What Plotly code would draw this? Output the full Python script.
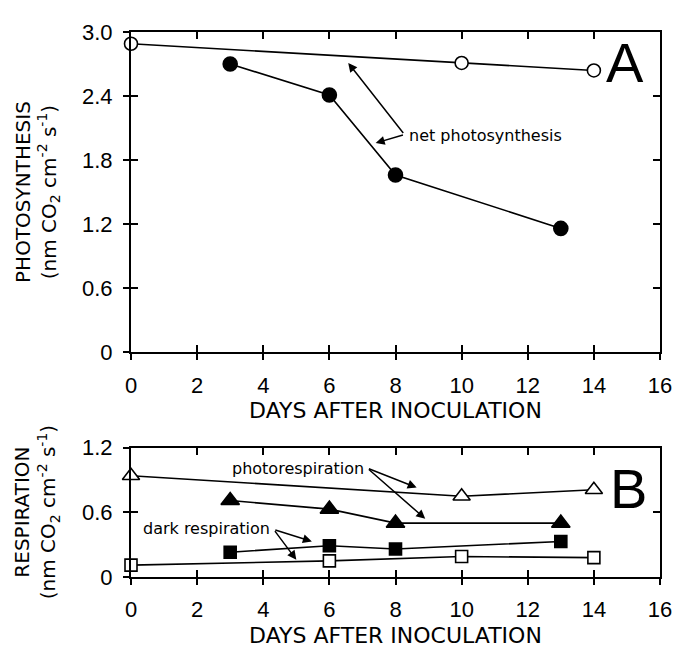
import plotly.graph_objects as go

# ---- data ----
days_open_A = [0, 10, 14]
photo_open = [2.89, 2.71, 2.64]
days_filled_A = [3, 6, 8, 13]
photo_filled = [2.70, 2.41, 1.66, 1.16]

days_open_B = [0, 10, 14]
photoresp_open = [0.94, 0.75, 0.81]
days_filled_B = [3, 6, 8, 13]
photoresp_filled = [0.71, 0.63, 0.50, 0.50]
dark_filled = [0.23, 0.29, 0.26, 0.33]
days_dark_open = [0, 6, 10, 14]
dark_open = [0.11, 0.15, 0.19, 0.18]

x_ticks = [0, 2, 4, 6, 8, 10, 12, 14, 16]
yA_ticks = [0, 0.6, 1.2, 1.8, 2.4, 3.0]
yA_ticktext = ["0", "0.6", "1.2", "1.8", "2.4", "3.0"]
yB_ticks = [0, 0.6, 1.2]
yB_ticktext = ["0", "0.6", "1.2"]

FONT = "Liberation Sans"
TFONT = "DejaVu Sans"
LW = 1.6

fig = go.Figure()

def add_series(x, y, symbol, filled, size, xa, ya):
    fig.add_trace(go.Scatter(
        x=x, y=y, mode="lines+markers", xaxis=xa, yaxis=ya,
        line=dict(color="black", width=LW),
        marker=dict(symbol=symbol, size=size,
                    color="black" if filled else "white",
                    line=dict(color="black", width=1.6)),
        showlegend=False, cliponaxis=False))

add_series(days_open_A, photo_open, "circle", False, 13, "x", "y")
add_series(days_filled_A, photo_filled, "circle", True, 14, "x", "y")
add_series(days_open_B, photoresp_open, "triangle-up", False, 15, "x2", "y2")
add_series(days_filled_B, photoresp_filled, "triangle-up", True, 16, "x2", "y2")
add_series(days_filled_B, dark_filled, "square", True, 12, "x2", "y2")
add_series(days_dark_open, dark_open, "square", False, 12, "x2", "y2")

# invisible traces for extra inner tick marks
for xa, ya in (("x3", "y3"), ("x4", "y4"), ("x5", "y5"), ("x6", "y6")):
    fig.add_trace(go.Scatter(x=[None], y=[None], xaxis=xa, yaxis=ya,
                             showlegend=False, hoverinfo="skip"))

tickfont = dict(family=FONT, size=22, color="black")
titlefont = dict(family=TFONT, size=22, color="black")

dA = [0.4124, 1.0]
dB = [0.0, 0.2372]

common_x = dict(range=[0, 16], tickvals=x_ticks, ticks="outside", ticklen=6,
                tickwidth=1.6, tickcolor="black", showline=True, linecolor="black",
                linewidth=2, mirror=True, showgrid=False, zeroline=False,
                tickfont=tickfont, ticklabelstandoff=6)
common_y = dict(ticks="outside", ticklen=6, tickwidth=1.6, tickcolor="black",
                showline=True, linecolor="black", linewidth=2, mirror=True,
                showgrid=False, zeroline=False, tickfont=tickfont, ticklabelstandoff=6)

def inner(over, side, anchor, rng, vals):
    return dict(overlaying=over, side=side, anchor=anchor, range=rng, tickvals=vals,
                ticks="inside", ticklen=7, tickwidth=1.6, tickcolor="black",
                showticklabels=False, showgrid=False, zeroline=False, showline=False)

fig.update_layout(
    width=676, height=648, autosize=False,
    margin=dict(l=123, r=16, t=12, b=71),
    plot_bgcolor="white", paper_bgcolor="white",
    xaxis=dict(common_x, domain=[0, 1], anchor="y",
               title=dict(text="DAYS AFTER INOCULATION", font=titlefont, standoff=4)),
    yaxis=dict(common_y, domain=dA, anchor="x", range=[0, 3.0],
               tickvals=yA_ticks, ticktext=yA_ticktext),
    xaxis2=dict(common_x, domain=[0, 1], anchor="y2",
                title=dict(text="DAYS AFTER INOCULATION", font=titlefont, standoff=6)),
    yaxis2=dict(common_y, domain=dB, anchor="x2", range=[0, 1.2],
                tickvals=yB_ticks, ticktext=yB_ticktext),
    xaxis3=inner("x", "top", "y3", [0, 16], x_ticks),
    yaxis3=inner("y", "right", "x3", [0, 3.0], yA_ticks),
    xaxis4=inner("x2", "top", "y4", [0, 16], x_ticks),
    yaxis4=inner("y2", "right", "x4", [0, 1.2], yB_ticks),
    xaxis5=inner("x", "bottom", "y5", [0, 16], x_ticks),
    yaxis5=inner("y", "left", "x5", [0, 3.0], yA_ticks),
    xaxis6=inner("x2", "bottom", "y6", [0, 16], x_ticks),
    yaxis6=inner("y2", "left", "x6", [0, 1.2], yB_ticks),
)

labfont = dict(family=TFONT, size=16, color="black")
arrow = dict(showarrow=True, arrowhead=2, arrowsize=1.2, arrowwidth=1.5,
             arrowcolor="black", text="")
ytfont = dict(family=TFONT, size=20, color="black")

annotations = [
    dict(x=-0.178, y=(dA[0] + dA[1]) / 2, xref="paper", yref="paper", textangle=-90,
         text="PHOTOSYNTHESIS<br>(nm CO<sub>2</sub> cm<sup>-2</sup> s<sup>-1</sup>)",
         showarrow=False, font=ytfont, xanchor="center", yanchor="middle"),
    dict(x=-0.178, y=(dB[0] + dB[1]) / 2, xref="paper", yref="paper", textangle=-90,
         text="RESPIRATION<br>(nm CO<sub>2</sub> cm<sup>-2</sup> s<sup>-1</sup>)",
         showarrow=False, font=ytfont, xanchor="center", yanchor="middle"),
    dict(x=14.95, y=2.71, xref="x", yref="y", text="A", showarrow=False,
         font=dict(family=FONT, size=56, color="black")),
    dict(x=15.05, y=0.82, xref="x2", yref="y2", text="B", showarrow=False,
         font=dict(family=FONT, size=56, color="black")),
    dict(x=8.35, y=2.03, xref="x", yref="y", text="net photosynthesis", xanchor="left",
         showarrow=False, font=labfont),
    dict(arrow, x=6.57, y=2.71, ax=8.27, ay=2.04, xref="x", yref="y", axref="x", ayref="y"),
    dict(arrow, x=7.40, y=1.96, ax=8.27, ay=2.04, xref="x", yref="y", axref="x", ayref="y"),
    dict(x=7.1, y=1.01, xref="x2", yref="y2", text="photorespiration", xanchor="right",
         showarrow=False, font=labfont),
    dict(arrow, x=8.64, y=0.83, ax=7.15, ay=1.01, xref="x2", yref="y2", axref="x2", ayref="y2"),
    dict(arrow, x=8.9, y=0.54, ax=7.15, ay=1.01, xref="x2", yref="y2", axref="x2", ayref="y2"),
    dict(x=4.25, y=0.45, xref="x2", yref="y2", text="dark respiration", xanchor="right",
         showarrow=False, font=labfont),
    dict(arrow, x=5.47, y=0.33, ax=4.32, ay=0.44, xref="x2", yref="y2", axref="x2", ayref="y2"),
    dict(arrow, x=5.0, y=0.16, ax=4.32, ay=0.44, xref="x2", yref="y2", axref="x2", ayref="y2"),
]
fig.update_layout(annotations=annotations)

fig.write_html("out.html")
